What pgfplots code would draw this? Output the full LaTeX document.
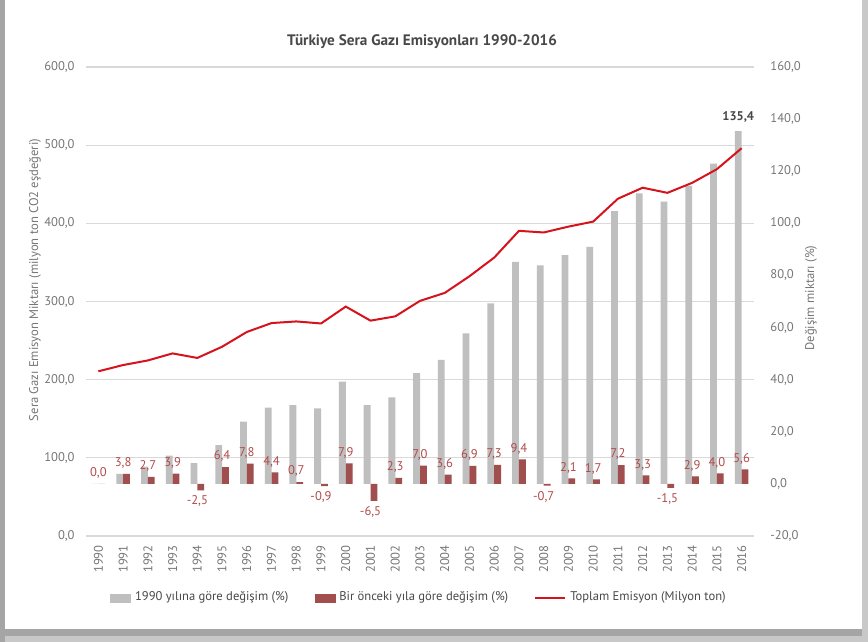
\documentclass[border=0pt]{standalone}
\usepackage{fontspec}
\setmainfont{PT Sans}
\usepackage{pgfplots}
\pgfplotsset{compat=1.18}
\definecolor{gbar}{RGB}{191,191,191}
\definecolor{rbar}{RGB}{160,78,78}
\definecolor{rlab}{RGB}{178,74,74}
\definecolor{rline}{RGB}{214,18,28}
\definecolor{gridc}{RGB}{217,217,217}
\definecolor{tickc}{RGB}{118,118,118}
\definecolor{titc}{RGB}{72,72,72}
\definecolor{frameA}{RGB}{165,165,165}
\definecolor{frameB}{RGB}{200,200,200}
\newcommand{\tfont}{\fontsize{6.3}{7}\selectfont}
\pgfplotsset{
  base/.style={
    scale only axis, width=334pt, height=234.5pt,
    xmin=-0.5, xmax=26.5,
    axis line style={draw=none},
    major tick length=0pt,
    tick label style={font=\tfont, text=tickc},
  },
  numfmt/.style={yticklabel={\pgfmathprintnumber[fixed,fixed zerofill,precision=1,use comma,1000 sep={},assume math mode=true]{\tick}}},
}
\begin{document}
\begin{tikzpicture}
\useasboundingbox (-43pt,-53pt) rectangle (391pt,268pt);
\fill[frameB] (-43pt,-53pt) rectangle (391pt,268pt);
\fill[frameA] (-43pt,-50pt) rectangle (388pt,-46pt);
\fill[frameA] (-43pt,-53pt) rectangle (-40.5pt,268pt);
\fill[white] (-40.5pt,-46.3pt) rectangle (388pt,268pt);

% grid + left ticks + x tick labels
\begin{axis}[base, numfmt,
  ymin=0, ymax=600, ytick={0,100,...,600},
  ymajorgrids, grid style={gridc, line width=0.6pt},
  yticklabel style={anchor=east, inner sep=0pt}, yticklabel shift=5.5pt,
  xtick={0,...,26},
  xticklabels={1990,1991,1992,1993,1994,1995,1996,1997,1998,1999,2000,2001,2002,2003,2004,2005,2006,2007,2008,2009,2010,2011,2012,2013,2014,2015,2016},
  xticklabel style={rotate=90, anchor=east, inner sep=0pt}, xticklabel shift=4.5pt,
]
\addplot[draw=none] coordinates {(0,0)};
\end{axis}

% bars on right axis
\begin{axis}[base, numfmt,
  ymin=-20, ymax=160, ytick={-20,0,...,160},
  yticklabel pos=right,
  yticklabel style={anchor=west, inner sep=0pt}, yticklabel shift=8pt,
  xtick=\empty, clip=false,
]
\addplot[ybar, bar width=3.4pt, bar shift=-1.7pt, fill=gbar, draw=none] coordinates {
(0,0) (1,3.8) (2,6.6) (3,10.8) (4,8.0) (5,14.9) (6,23.9) (7,29.3) (8,30.2) (9,29.0)
(10,39.2) (11,30.2) (12,33.2) (13,42.5) (14,47.6) (15,57.8) (16,69.3) (17,85.2) (18,83.9) (19,87.8)
(20,91.0) (21,104.7) (22,111.5) (23,108.3) (24,114.4) (25,122.9) (26,135.4)};
\addplot[ybar, bar width=3.4pt, bar shift=1.7pt, fill=rbar, draw=none,
  nodes near coords={\pgfmathprintnumber[fixed,fixed zerofill,precision=1,use comma,assume math mode=true]{\pgfplotspointmeta}},
  nodes near coords align={vertical},
  every node near coord/.append style={font=\tfont, text=rlab, inner sep=2.5pt}] coordinates {
(0,0.0) (1,3.8) (2,2.7) (3,3.9) (4,-2.5) (5,6.4) (6,7.8) (7,4.4) (8,0.7) (9,-0.9)
(10,7.9) (11,-6.5) (12,2.3) (13,7.0) (14,3.6) (15,6.9) (16,7.3) (17,9.4) (18,-0.7) (19,2.1)
(20,1.7) (21,7.2) (22,3.3) (23,-1.5) (24,2.9) (25,4.0) (26,5.6)};
\node[font=\bfseries\tfont, text=titc, anchor=south, inner sep=0pt, xshift=-1.7pt, yshift=4pt] at (axis cs:26,135.4) {135,4};
\end{axis}

% line on left axis + legend
\begin{axis}[base,
  ymin=0, ymax=600, xtick=\empty, ytick=\empty,
  legend style={at={(axis description cs:0.5,-0.132)}, anchor=center, draw=none, fill=none,
    font=\tfont, text=titc, legend columns=3,
    /tikz/every even column/.append style={column sep=11pt},
    inner sep=0pt, row sep=0pt},
]
\addlegendimage{legend image code/.code={\fill[gbar] (0pt,-2pt) rectangle (10pt,2pt);}}
\addlegendentry{1990 yılına göre değişim (\%)}
\addlegendimage{legend image code/.code={\fill[rbar] (0pt,-2pt) rectangle (10pt,2pt);}}
\addlegendentry{Bir önceki yıla göre değişim (\%)}
\addlegendimage{legend image code/.code={\draw[rline, line width=1pt] (0pt,0pt) -- (15pt,0pt);}}
\addlegendentry{Toplam Emisyon (Milyon ton)}
\addplot[rline, line width=1pt, forget plot] coordinates {
(0,210.7) (1,218.7) (2,224.6) (3,233.6) (4,227.8) (5,242.1) (6,261.0) (7,272.4) (8,274.5) (9,271.9)
(10,293.5) (11,275.5) (12,281.0) (13,300.8) (14,311.0) (15,332.3) (16,356.2) (17,390.4) (18,388.3) (19,395.8)
(20,402.2) (21,431.5) (22,445.6) (23,439.0) (24,451.8) (25,469.3) (26,496.1)};
\end{axis}

\node[font=\bfseries\fontsize{7.6}{9}\selectfont, text=titc] at (168pt,247pt) {Türkiye Sera Gazı Emisyonları 1990-2016};
\node[font=\tfont, text=tickc, rotate=90] at (-25.5pt,128pt) {Sera Gazı Emisyon Miktarı (milyon ton CO2 eşdeğeri)};
\node[font=\tfont, text=tickc, rotate=90] at (362.5pt,119pt) {Değişim miktarı (\%)};
\end{tikzpicture}
\end{document}
